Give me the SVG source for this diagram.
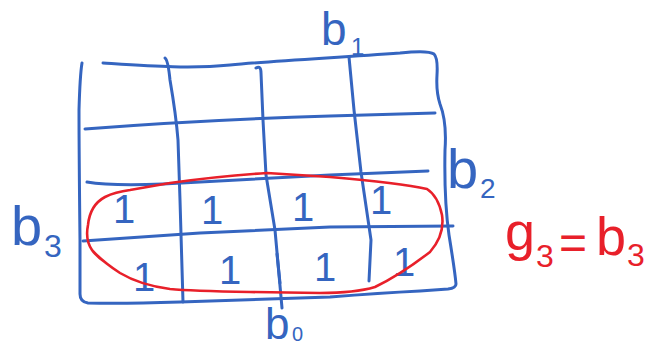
<svg xmlns="http://www.w3.org/2000/svg" width="653" height="349" viewBox="0 0 653 349">
<style>
.ink{fill:none;stroke:#3565c0;stroke-width:3;stroke-linecap:round;stroke-linejoin:round}
.red{fill:none;stroke:#e8202a;stroke-width:2.6;stroke-linecap:round;stroke-linejoin:round}
.one{font-family:"Liberation Sans",Arial,sans-serif;font-size:40px;fill:#3565c0;text-anchor:middle}
.lbl{font-family:"Liberation Sans",Arial,sans-serif;fill:#3565c0}
.rlbl{font-family:"Liberation Sans",Arial,sans-serif;fill:#e8202a}
</style>
<rect width="653" height="349" fill="#ffffff"/>
<g id="grid">
<path class="ink" d="M103,63 C150,66 190,69 230,65 S330,58 400,53 Q428,50 434,54 Q438,58 437,75 Q436,92 440,104 Q447,122 445,150 Q444,200 449,235 Q455,272 456,284 Q456,288 448,289 L420,291 Q380,293 330,297 L180,302 Q120,304 88,303 Q80,302 80,294 L80,240 Q79,150 79,110 Q80,75 82,63"/>
<path class="ink" d="M85,129 Q200,120 330,116 L435,113"/>
<path class="ink" d="M87,182 Q110,186 163,184 L330,175 L428,171"/>
<path class="ink" d="M83,241 L200,233 L330,227 L453,226"/>
<path class="ink" d="M165,58 Q168,60 170,80 Q176,115 178,140 L180,200 L183,302"/>
<path class="ink" d="M256,68 Q261,65 261,73 L263,120 L266,175 L275,230 L282,308"/>
<path class="ink" d="M349,57 L354,110 L361,172 L371,240 L369,281"/>
<path class="ink" d="M277,254 L280,283"/>
</g>
<g id="ones">
<text class="one" x="124" y="223">1</text>
<text class="one" x="212" y="224">1</text>
<text class="one" x="303" y="221">1</text>
<text class="one" x="381" y="214">1</text>
<text class="one" x="144" y="291">1</text>
<text class="one" x="230" y="284">1</text>
<text class="one" x="325" y="281">1</text>
<text class="one" x="404" y="276">1</text>
</g>
<g id="loop">
<path class="red" d="M106,263 Q96,256 92,250 Q85,240 88,225 Q90,205 105,197 Q115,192 130,190 L170,183 Q220,176 267,173 L330,177 Q400,183 427,189 Q438,196 442,215 Q445,235 430,252 Q400,275 375,287 Q355,293 320,293 L250,292 Q190,291 170,289 Q140,285 120,273 Q103,262 93,251"/>
</g>
<g id="labels">
<text class="lbl" x="321" y="45" font-size="46">b<tspan x="351" y="55" font-size="24">1</tspan></text>
<text class="lbl" x="447" y="188" font-size="56">b<tspan x="480" y="198" font-size="28">2</tspan></text>
<text class="lbl" x="11" y="245" font-size="56">b<tspan x="44" y="257" font-size="32">3</tspan></text>
<text class="lbl" x="265" y="339" font-size="44">b<tspan x="292" y="341" font-size="20">0</tspan></text>
<text class="rlbl" x="505" y="250" font-size="54">g<tspan x="536" y="267" font-size="32">3</tspan><tspan x="559" y="259" font-size="48">=</tspan><tspan x="596" y="255" font-size="54">b</tspan><tspan x="627" y="266" font-size="32">3</tspan></text>
</g>
</svg>
